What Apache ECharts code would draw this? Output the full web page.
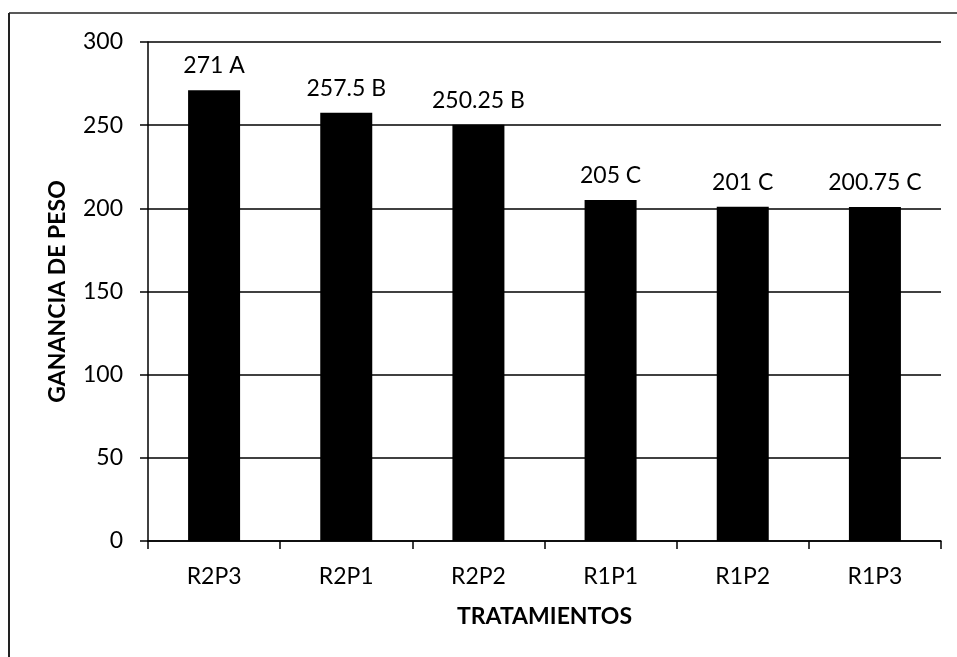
<!DOCTYPE html>
<html>
<head>
<meta charset="utf-8">
<script src="https://cdn.jsdelivr.net/npm/echarts@6/dist/echarts.min.js"></script>
<style>
  html, body { margin: 0; padding: 0; background: #fff; }
  #chart { width: 957px; height: 657px; }
</style>
</head>
<body>
<div id="chart"></div>
<script>
// Weight gain per treatment, with significance group letters
const categories = ['R2P3', 'R2P1', 'R2P2', 'R1P1', 'R1P2', 'R1P3'];
const weightGain = [271, 257.5, 250.25, 205, 201, 200.75];
const groups = ['A', 'B', 'B', 'C', 'C', 'C'];
const yTicks = { min: 0, max: 300, interval: 50 };

const FONT = 'Lato';
const SIZE = 23;
const chart = echarts.init(document.getElementById('chart'), null, { renderer: 'canvas' });

chart.setOption({
  backgroundColor: '#ffffff',
  animation: false,
  textStyle: { fontFamily: FONT },
  grid: { left: 148, right: 16, top: 42, bottom: 116, containLabel: false },
  graphic: [
    // frame drawn along the top and left edges
    { type: 'line', shape: { x1: 9, y1: 13, x2: 957, y2: 13 }, style: { stroke: '#222', lineWidth: 1.5 } },
    { type: 'line', shape: { x1: 9, y1: 13, x2: 9, y2: 657 }, style: { stroke: '#222', lineWidth: 2 } }
  ],
  xAxis: {
    type: 'category',
    data: categories,
    name: 'TRATAMIENTOS',
    nameLocation: 'middle',
    nameGap: 64,
    nameTextStyle: { fontFamily: FONT, fontSize: SIZE, fontWeight: 'bold', color: '#000' },
    axisLine: { show: true, lineStyle: { color: '#000', width: 1.5 } },
    axisTick: { show: true, length: 8, alignWithLabel: false, lineStyle: { color: '#000', width: 1.5 } },
    axisLabel: { fontFamily: FONT, fontSize: SIZE, color: '#000', margin: 24 },
    splitLine: { show: false }
  },
  yAxis: {
    type: 'value',
    min: yTicks.min,
    max: yTicks.max,
    interval: yTicks.interval,
    name: 'GANANCIA DE PESO',
    nameLocation: 'middle',
    nameGap: 79,
    nameRotate: 90,
    nameTextStyle: { fontFamily: FONT, fontSize: SIZE, fontWeight: 'bold', color: '#000' },
    axisLine: { show: true, lineStyle: { color: '#000', width: 1.5 } },
    axisTick: { show: true, length: 8, lineStyle: { color: '#000', width: 1.5 } },
    axisLabel: { fontFamily: FONT, fontSize: SIZE, color: '#000', margin: 25 },
    splitLine: { show: true, lineStyle: { color: '#000', width: 1.5 } }
  },
  series: [{
    type: 'bar',
    data: weightGain,
    barWidth: 52,
    itemStyle: { color: '#000' },
    label: {
      show: true,
      position: 'top',
      distance: 13,
      fontFamily: FONT,
      fontSize: SIZE,
      color: '#000',
      formatter: p => p.value + ' ' + groups[p.dataIndex]
    }
  }]
});
</script>
</body>
</html>
